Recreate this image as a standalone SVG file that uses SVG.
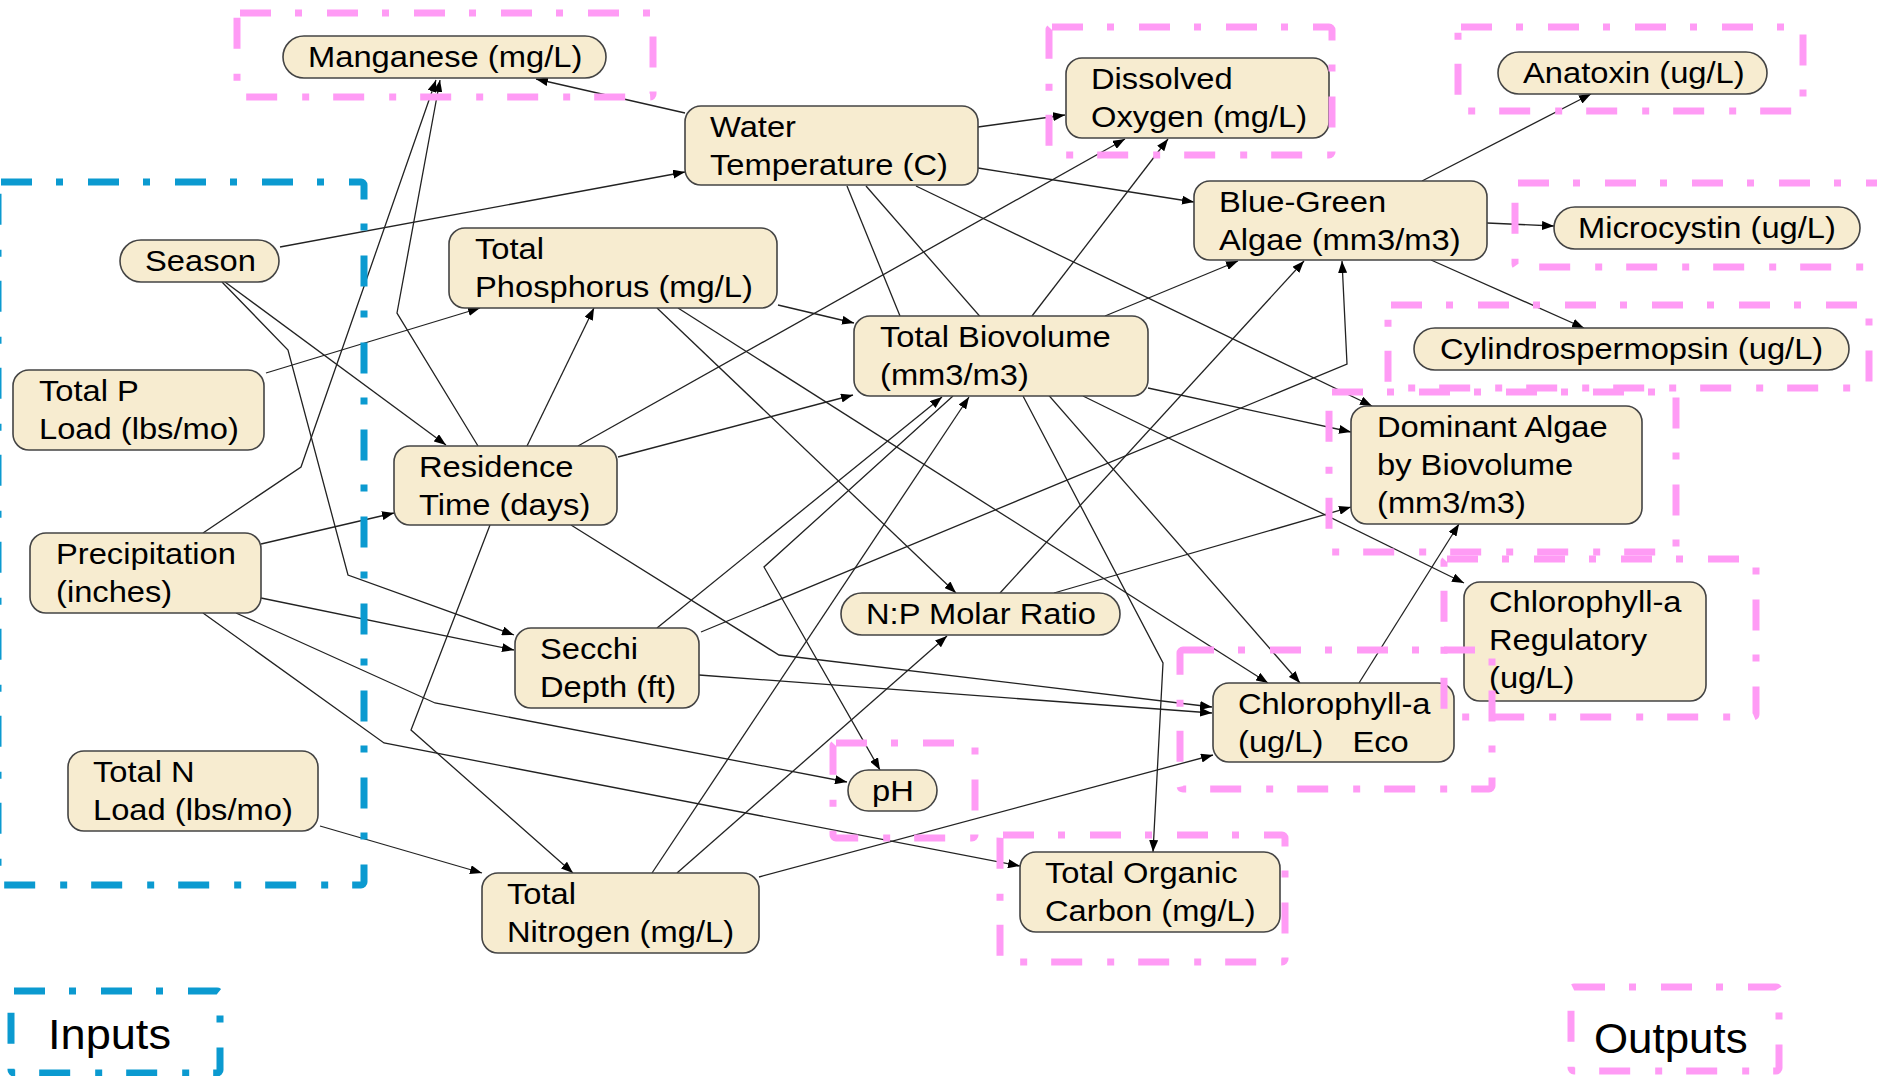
<svg xmlns="http://www.w3.org/2000/svg" width="1877" height="1076" viewBox="0 0 1877 1076">
<style>
.n{fill:#F7ECD0;stroke:#444;stroke-width:1.6}
.t{font-family:"Liberation Sans",Arial,sans-serif;font-size:30px;fill:#000}
.c path{fill:none;stroke:#222;stroke-width:1.3;marker-end:url(#ah)}
.c path.na{marker-end:none}
.pk{fill:none;stroke:#FF9BF5;stroke-width:7;stroke-dasharray:31 24 7 25}
.bl{fill:none;stroke:#0B9AD0;stroke-width:7;stroke-dasharray:31 24 7 25}
.lg{font-family:"Liberation Sans",Arial,sans-serif;font-size:43px;fill:#000}
</style>
<defs>
<marker id="ah" markerUnits="userSpaceOnUse" markerWidth="12" markerHeight="9" refX="12" refY="4.5" orient="auto">
<path d="M0,0 L12,4.5 L0,9 z" fill="#000"/>
</marker>
</defs>
<rect width="1877" height="1076" fill="#fff"/>
<g id="connectors" class="c">
<path d="M685,113 L536,79"/>
<path d="M978,127 L1065,115"/>
<path d="M978,168 L1194,202"/>
<path d="M280,247 L685,172"/>
<path d="M225,282 L446,445"/>
<path d="M222,282 L288,350 L348,575 L514,635"/>
<path d="M266,373 L480,308"/>
<path d="M203,533 L301,467 L436,80"/>
<path d="M478,446 L397,313 L440,80"/>
<path d="M527,446 L594,308"/>
<path d="M578,446 L1125,139"/>
<path d="M618,457 L853,395"/>
<path d="M571,525 L779,655 L1212,707"/>
<path d="M490,525 L411,730 L573,873"/>
<path d="M261,544 L394,513"/>
<path d="M261,598 L514,650"/>
<path d="M236,613 L435,703 L847,782"/>
<path d="M203,613 L384,743 L1020,866"/>
<path d="M320,826 L482,873"/>
<path d="M652,873 L969,397"/>
<path d="M677,873 L947,636"/>
<path d="M759,877 L1213,755"/>
<path d="M778,305 L854,323"/>
<path d="M657,308 L956,593"/>
<path d="M678,308 L1268,683"/>
<path d="M1032,316 L1168,139"/>
<path d="M1105,316 L1238,261"/>
<path d="M1148,388 L1351,432"/>
<path d="M1083,396 L1464,583"/>
<path d="M866,186 L1300,683"/>
<path class="na" d="M847,186 L900,316"/>
<path d="M1023,396 L1163,663 L1153,852"/>
<path d="M953,396 L764,567 L880,770"/>
<path d="M657,628 L942,397"/>
<path d="M699,675 L1212,713"/>
<path d="M701,632 L1347,364 L1342,261"/>
<path d="M1000,593 L1304,261"/>
<path d="M1054,593 L1351,507"/>
<path d="M916,186 L1372,406"/>
<path d="M1359,683 L1459,524"/>
<path d="M1422,181 L1591,94"/>
<path d="M1487,223 L1554,226"/>
<path d="M1431,260 L1584,328"/>
</g>
<g id="node-manganese"><rect class="n" x="283" y="36" width="323" height="42" rx="21"/><text class="t" transform="translate(308,67) scale(1.09,1)">Manganese (mg/L)</text></g>
<g id="node-water-temperature"><rect class="n" x="685" y="106" width="293" height="79" rx="16"/><text class="t" transform="translate(710,137) scale(1.09,1)"><tspan x="0" y="0">Water</tspan><tspan x="0" y="38">Temperature (C)</tspan></text></g>
<g id="node-dissolved-oxygen"><rect class="n" x="1066" y="58" width="263" height="80" rx="16"/><text class="t" transform="translate(1091,89) scale(1.09,1)"><tspan x="0" y="0">Dissolved</tspan><tspan x="0" y="38">Oxygen (mg/L)</tspan></text></g>
<g id="node-anatoxin"><rect class="n" x="1498" y="52" width="269" height="42" rx="21"/><text class="t" transform="translate(1523,83) scale(1.09,1)">Anatoxin (ug/L)</text></g>
<g id="node-blue-green"><rect class="n" x="1194" y="181" width="293" height="79" rx="16"/><text class="t" transform="translate(1219,212) scale(1.09,1)"><tspan x="0" y="0">Blue-Green</tspan><tspan x="0" y="38">Algae (mm3/m3)</tspan></text></g>
<g id="node-microcystin"><rect class="n" x="1554" y="207" width="306" height="42" rx="21"/><text class="t" transform="translate(1578,238) scale(1.09,1)">Microcystin (ug/L)</text></g>
<g id="node-cylindrospermopsin"><rect class="n" x="1414" y="328" width="435" height="42" rx="21"/><text class="t" transform="translate(1440,359) scale(1.09,1)">Cylindrospermopsin (ug/L)</text></g>
<g id="node-season"><rect class="n" x="120" y="240" width="159" height="42" rx="21"/><text class="t" transform="translate(145,271) scale(1.09,1)">Season</text></g>
<g id="node-total-phosphorus"><rect class="n" x="449" y="228" width="328" height="80" rx="16"/><text class="t" transform="translate(475,259) scale(1.09,1)"><tspan x="0" y="0">Total</tspan><tspan x="0" y="38">Phosphorus (mg/L)</tspan></text></g>
<g id="node-total-p-load"><rect class="n" x="13" y="370" width="251" height="80" rx="16"/><text class="t" transform="translate(39,401) scale(1.09,1)"><tspan x="0" y="0">Total P</tspan><tspan x="0" y="38">Load (lbs/mo)</tspan></text></g>
<g id="node-total-biovolume"><rect class="n" x="854" y="316" width="294" height="80" rx="16"/><text class="t" transform="translate(880,347) scale(1.09,1)"><tspan x="0" y="0">Total Biovolume</tspan><tspan x="0" y="38">(mm3/m3)</tspan></text></g>
<g id="node-residence-time"><rect class="n" x="394" y="446" width="223" height="79" rx="16"/><text class="t" transform="translate(419,477) scale(1.09,1)"><tspan x="0" y="0">Residence</tspan><tspan x="0" y="38">Time (days)</tspan></text></g>
<g id="node-dominant-algae"><rect class="n" x="1351" y="406" width="291" height="118" rx="16"/><text class="t" transform="translate(1377,437) scale(1.09,1)"><tspan x="0" y="0">Dominant Algae</tspan><tspan x="0" y="38">by Biovolume</tspan><tspan x="0" y="76">(mm3/m3)</tspan></text></g>
<g id="node-precipitation"><rect class="n" x="30" y="533" width="231" height="80" rx="16"/><text class="t" transform="translate(56,564) scale(1.09,1)"><tspan x="0" y="0">Precipitation</tspan><tspan x="0" y="38">(inches)</tspan></text></g>
<g id="node-np-molar-ratio"><rect class="n" x="841" y="593" width="279" height="42" rx="21"/><text class="t" transform="translate(866,624) scale(1.09,1)">N:P Molar Ratio</text></g>
<g id="node-secchi-depth"><rect class="n" x="515" y="628" width="184" height="80" rx="16"/><text class="t" transform="translate(540,659) scale(1.09,1)"><tspan x="0" y="0">Secchi</tspan><tspan x="0" y="38">Depth (ft)</tspan></text></g>
<g id="node-chlorophyll-regulatory"><rect class="n" x="1464" y="582" width="242" height="119" rx="16"/><text class="t" transform="translate(1489,612) scale(1.09,1)"><tspan x="0" y="0">Chlorophyll-a</tspan><tspan x="0" y="38">Regulatory</tspan><tspan x="0" y="76">(ug/L)</tspan></text></g>
<g id="node-chlorophyll-eco"><rect class="n" x="1213" y="683" width="241" height="79" rx="16"/><text class="t" transform="translate(1238,714) scale(1.09,1)"><tspan x="0" y="0">Chlorophyll-a</tspan><tspan x="0" y="38">(ug/L)</tspan><tspan x="105" y="38">Eco</tspan></text></g>
<g id="node-ph"><rect class="n" x="848" y="770" width="89" height="41" rx="20.5"/><text class="t" transform="translate(872,801) scale(1.09,1)">pH</text></g>
<g id="node-total-n-load"><rect class="n" x="68" y="751" width="250" height="80" rx="16"/><text class="t" transform="translate(93,782) scale(1.09,1)"><tspan x="0" y="0">Total N</tspan><tspan x="0" y="38">Load (lbs/mo)</tspan></text></g>
<g id="node-total-nitrogen"><rect class="n" x="482" y="873" width="277" height="80" rx="16"/><text class="t" transform="translate(507,904) scale(1.09,1)"><tspan x="0" y="0">Total</tspan><tspan x="0" y="38">Nitrogen (mg/L)</tspan></text></g>
<g id="node-total-organic-carbon"><rect class="n" x="1020" y="852" width="260" height="80" rx="16"/><text class="t" transform="translate(1045,883) scale(1.09,1)"><tspan x="0" y="0">Total Organic</tspan><tspan x="0" y="38">Carbon (mg/L)</tspan></text></g>
<g id="groups">
<rect class="bl" x="-2" y="182" width="366" height="703" rx="3"/>
<rect class="pk" x="237" y="13" width="416" height="84" rx="3"/>
<rect class="pk" x="1049" y="27" width="283" height="128" rx="3"/>
<rect class="pk" x="1458" y="27" width="345" height="84" rx="3"/>
<rect class="pk" x="1515" y="183" width="380" height="84" rx="3"/>
<rect class="pk" x="1388" y="305" width="481" height="83" rx="3"/>
<rect class="pk" x="1329" y="392" width="347" height="160" rx="3"/>
<rect class="pk" x="1444" y="559" width="312" height="158" rx="3"/>
<rect class="pk" x="1180" y="650" width="312" height="139" rx="3"/>
<rect class="pk" x="833" y="743" width="142" height="95" rx="3"/>
<rect class="pk" x="1000" y="835" width="285" height="127" rx="3"/>
</g>
<g id="legend-inputs"><rect class="bl" x="11" y="991" width="209" height="82" rx="3"/><text class="lg" transform="translate(48,1049) scale(1.05,1)">Inputs</text></g>
<g id="legend-outputs"><rect class="pk" x="1571" y="987" width="208" height="84" rx="3"/><text class="lg" transform="translate(1594,1053) scale(1.02,1)">Outputs</text></g>
</svg>
